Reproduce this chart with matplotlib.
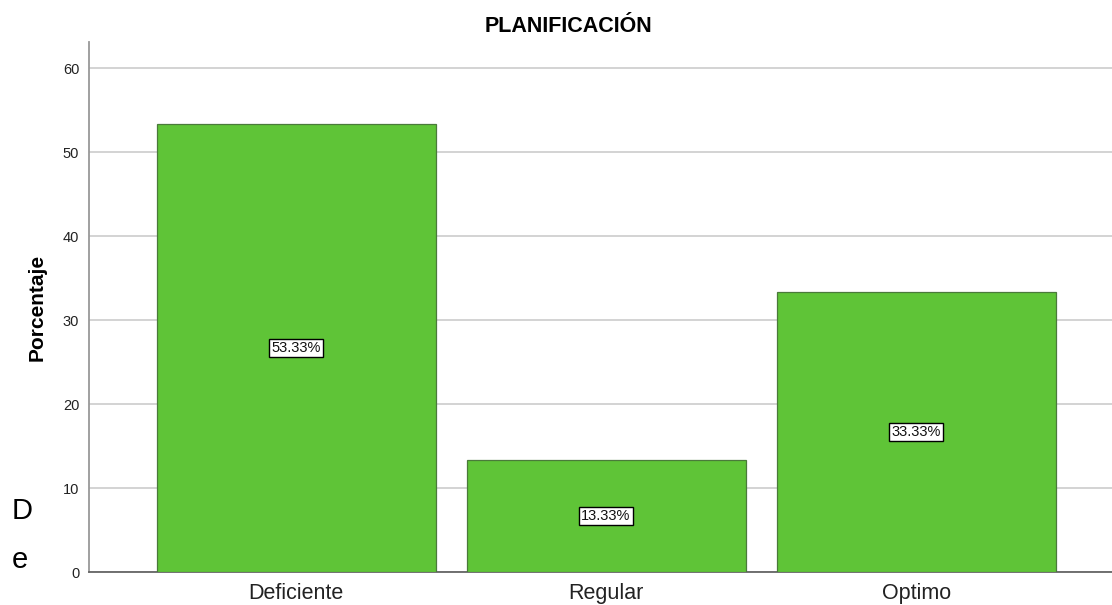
import matplotlib
matplotlib.use("Agg")
import matplotlib.pyplot as plt

plt.rcParams['font.family'] = ['Liberation Sans', 'DejaVu Sans']

categorias = ['Deficiente', 'Regular', 'Optimo']
porcentajes = [53.33, 13.33, 33.33]
etiquetas = ['53.33%', '13.33%', '33.33%']
ticks_y = [0, 10, 20, 30, 40, 50, 60]

fig = plt.figure(figsize=(11.12, 6.05), dpi=100)
ax = fig.add_axes([0.080, 0.0545, 0.920, 0.876])

pos = range(len(categorias))
ax.bar(pos, porcentajes, width=0.9, color='#5FC437', edgecolor='#4a7a3a',
       linewidth=0.9, zorder=3)

for x, v, t in zip(pos, porcentajes, etiquetas):
    ax.text(x, v / 2, t, ha='center', va='center', fontsize=10.5, color='#111111',
            zorder=4,
            bbox=dict(boxstyle='square,pad=0.15', facecolor='white',
                      edgecolor='black', linewidth=1))

ax.set_xlim(-0.668, 2.632)
ax.set_ylim(0, 63.1)
ax.set_yticks(ticks_y)
ax.set_xticks(list(pos))
ax.set_xticklabels(categorias, fontsize=15.5)
ax.tick_params(axis='y', length=0, labelsize=10.5, pad=7, labelcolor='#222222')
ax.tick_params(axis='x', length=0, pad=8, labelcolor='#222222')
ax.yaxis.grid(True, color='#d0d0d0', linewidth=1.3, zorder=0)
ax.set_axisbelow(True)

for s in ['top', 'right']:
    ax.spines[s].set_visible(False)
ax.spines['left'].set_color('#999999')
ax.spines['left'].set_linewidth(1.3)
ax.spines['bottom'].set_color('#666666')
ax.spines['bottom'].set_linewidth(1.3)

ax.set_ylabel('Porcentaje', fontsize=15, fontweight='bold', labelpad=12)
fig.text(568 / 1112, 1 - 27 / 605, 'PLANIFICACIÓN', ha='center', va='center',
         fontsize=15.5, fontweight='bold')

# restos de texto a la izquierda
fig.text(12 / 1112, 1 - 511 / 605, 'D', ha='left', va='center', fontsize=21)
fig.text(12 / 1112, 1 - 560 / 605, 'e', ha='left', va='center', fontsize=21)

fig.savefig('out.png', dpi=100)
